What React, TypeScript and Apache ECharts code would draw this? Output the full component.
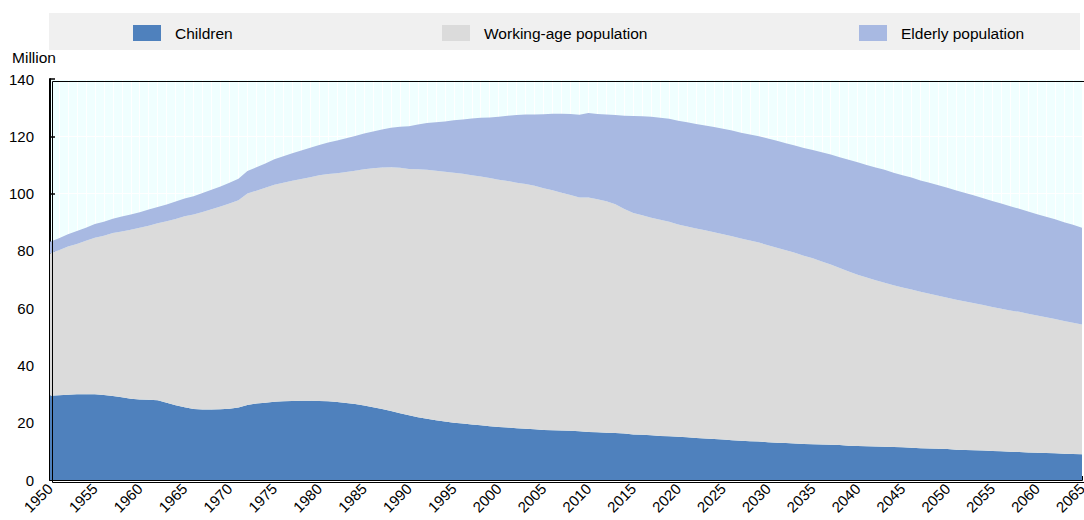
import React, { useEffect, useRef } from "react";
import * as echarts from "echarts";

const years: string[] = Array.from({ length: 116 }, (_, i) => String(1950 + i));

// Million persons
const children: number[] = [
  29.4, 29.6, 29.8, 29.9, 29.9, 29.9, 29.7, 29.3, 28.9, 28.4,
  28.1, 28.0, 27.8, 27.0, 26.1, 25.4, 24.8, 24.6, 24.6, 24.7,
  24.9, 25.3, 26.2, 26.7, 27.0, 27.3, 27.5, 27.6, 27.7, 27.7,
  27.6, 27.5, 27.2, 26.9, 26.5, 26.0, 25.4, 24.8, 24.1, 23.3,
  22.6, 21.9, 21.4, 20.9, 20.4, 20.0, 19.7, 19.4, 19.1, 18.8,
  18.5, 18.3, 18.1, 17.9, 17.7, 17.5, 17.4, 17.3, 17.2, 17.0,
  16.8, 16.7, 16.5, 16.4, 16.2, 15.9, 15.8, 15.6, 15.4, 15.3,
  15.1, 14.9, 14.7, 14.5, 14.3, 14.1, 13.9, 13.7, 13.5, 13.4,
  13.2, 13.0, 12.9, 12.7, 12.6, 12.5, 12.4, 12.3, 12.2, 12.0,
  11.9, 11.8, 11.7, 11.6, 11.5, 11.4, 11.3, 11.1, 11.0, 10.9,
  10.8, 10.6, 10.5, 10.4, 10.3, 10.1, 10.0, 9.9, 9.8, 9.6,
  9.5, 9.4, 9.3, 9.2, 9.1, 9.0,
];

const workingAge: number[] = [
  49.7, 50.6, 51.7, 52.5, 53.6, 54.7, 55.6, 56.9, 57.9, 59.0,
  60.0, 60.8, 61.8, 63.3, 65.0, 66.7, 67.9, 69.0, 69.9, 70.8,
  71.6, 72.4, 73.8, 74.3, 75.0, 75.8, 76.3, 76.9, 77.4, 78.0,
  78.8, 79.3, 79.9, 80.6, 81.5, 82.5, 83.4, 84.3, 85.1, 85.7,
  86.0, 86.6, 86.9, 87.1, 87.2, 87.3, 87.2, 87.0, 86.9, 86.6,
  86.3, 86.1, 85.7, 85.4, 85.0, 84.4, 83.8, 83.0, 82.3, 81.6,
  81.8, 81.3, 80.8, 79.9, 78.4, 77.3, 76.6, 76.0, 75.5, 74.9,
  74.1, 73.6, 73.1, 72.7, 72.2, 71.7, 71.2, 70.6, 70.1, 69.5,
  68.8, 68.1, 67.3, 66.6, 65.7, 64.9, 63.9, 62.9, 61.8, 60.8,
  59.8, 58.9, 58.0, 57.3, 56.5, 55.8, 55.2, 54.6, 54.0, 53.4,
  52.8, 52.3, 51.8, 51.3, 50.8, 50.3, 49.8, 49.3, 48.9, 48.4,
  47.9, 47.4, 46.9, 46.3, 45.8, 45.3,
];

const elderly: number[] = [
  4.1, 4.2, 4.3, 4.5, 4.6, 4.8, 4.9, 5.0, 5.2, 5.3,
  5.4, 5.6, 5.7, 5.9, 6.1, 6.2, 6.4, 6.6, 6.8, 7.0,
  7.3, 7.5, 7.9, 8.2, 8.5, 8.9, 9.2, 9.6, 9.9, 10.3,
  10.6, 11.0, 11.4, 11.8, 12.1, 12.5, 12.9, 13.3, 13.8, 14.3,
  14.9, 15.6, 16.3, 16.9, 17.6, 18.3, 19.0, 19.8, 20.5, 21.2,
  22.0, 22.8, 23.6, 24.3, 24.9, 25.8, 26.7, 27.6, 28.3, 28.9,
  29.5, 29.8, 30.3, 31.1, 32.6, 33.9, 34.6, 35.2, 35.6, 35.9,
  36.2, 36.4, 36.5, 36.6, 36.7, 36.8, 36.9, 36.9, 37.0, 37.1,
  37.2, 37.3, 37.4, 37.5, 37.6, 37.8, 38.1, 38.4, 38.7, 39.0,
  39.2, 39.3, 39.4, 39.4, 39.3, 39.2, 39.1, 38.9, 38.8, 38.6,
  38.4, 38.2, 37.9, 37.6, 37.3, 37.0, 36.7, 36.4, 36.0, 35.7,
  35.4, 35.1, 34.8, 34.5, 34.2, 33.8,
];

const seriesNames = ["Children", "Working-age population", "Elderly population"];
const seriesColors = ["#4f81bd", "#dbdbdb", "#a8b9e2"];
const legendLefts = [133, 442, 859];

const FONT = "'Liberation Sans', Arial, sans-serif";

export default function App() {
  const ref = useRef<HTMLDivElement>(null);

  useEffect(() => {
    document.body.style.margin = "0";
    if (!ref.current) return;
    const chart = echarts.init(ref.current, undefined, { renderer: "svg" });
    const dataSets = [children, workingAge, elderly];

    const GRID = { left: 50, right: 2, top: 79, bottom: 40 };

    chart.setOption({
      animation: false,
      backgroundColor: "#ffffff",
      textStyle: { fontFamily: FONT },
      graphic: [
        {
          type: "rect",
          left: 49,
          top: 13,
          shape: { width: 1031, height: 37 },
          style: { fill: "#f0f0f0" },
          z: -10,
          silent: true,
        },
        {
          type: "rect",
          left: GRID.left,
          top: GRID.top,
          shape: { width: 1084 - GRID.left - GRID.right, height: 520 - GRID.top - GRID.bottom },
          style: { fill: "none", stroke: "#000", lineWidth: 1 },
          z: 100,
          silent: true,
        },
      ],
      legend: seriesNames.map((name, i) => ({
        data: [name],
        left: legendLefts[i],
        top: 25,
        padding: 0,
        icon: "rect",
        itemWidth: 28,
        itemHeight: 16,
        selectedMode: false,
        textStyle: {
          fontFamily: FONT,
          fontSize: 15.5,
          color: "#000",
          padding: [0, 0, 0, 9],
        },
      })),
      grid: {
        ...GRID,
        show: true,
        backgroundColor: "#f0ffff",
        borderWidth: 0,
        outerBoundsMode: "none",
        containLabel: false,
      },
      xAxis: {
        type: "category",
        data: years,
        boundaryGap: false,
        axisLine: { show: true, lineStyle: { color: "#000", width: 2 } },
        axisTick: { show: true, inside: true, length: 4, interval: 0, lineStyle: { color: "#000", width: 1 } },
        axisLabel: {
          interval: 4,
          rotate: 45,
          fontFamily: FONT,
          fontSize: 15,
          color: "#000",
          margin: 6,
        },
        splitLine: { show: true, interval: 0, lineStyle: { color: "#ffffff", width: 1 } },
      },
      yAxis: {
        type: "value",
        min: 0,
        max: 140,
        interval: 20,
        name: "Million",
        nameLocation: "end",
        nameGap: 14,
        nameTextStyle: {
          fontFamily: FONT,
          fontSize: 15.5,
          color: "#000",
          align: "right",
          padding: [0, -6, 0, 0],
        },
        axisLine: { show: true, lineStyle: { color: "#000", width: 2 } },
        axisTick: { show: true, inside: true, length: 5, lineStyle: { color: "#000", width: 1.5 } },
        axisLabel: { fontFamily: FONT, fontSize: 15, color: "#000", margin: 16 },
        splitLine: { show: true, lineStyle: { color: "#ffffff", width: 1 } },
      },
      series: seriesNames.map((name, i) => ({
        name,
        type: "line",
        stack: "total",
        data: dataSets[i],
        symbol: "none",
        showSymbol: false,
        color: seriesColors[i],
        lineStyle: { width: 0 },
        areaStyle: { color: seriesColors[i], opacity: 1 },
        emphasis: { disabled: true },
        z: 2,
      })),
    });

    return () => chart.dispose();
  }, []);

  return <div ref={ref} style={{ width: 1084, height: 520 }} />;
}
